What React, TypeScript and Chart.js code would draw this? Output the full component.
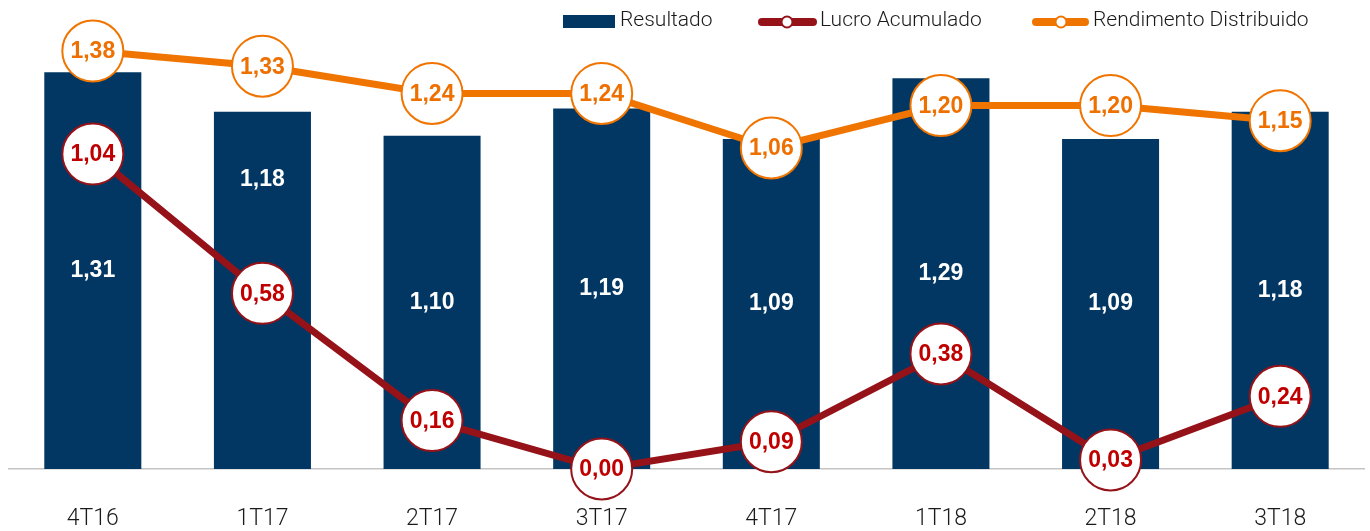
import React, { useEffect, useRef } from 'react';
import { Chart, registerables } from 'chart.js';

Chart.register(...registerables);

const categories = ['4T16', '1T17', '2T17', '3T17', '4T17', '1T18', '2T18', '3T18'];
const resultado = [1.31, 1.18, 1.1, 1.19, 1.09, 1.29, 1.09, 1.18];
const lucroAcumulado = [1.04, 0.58, 0.16, 0.0, 0.09, 0.38, 0.03, 0.24];
const rendimentoDistribuido = [1.38, 1.33, 1.24, 1.24, 1.06, 1.2, 1.2, 1.15];
const seriesNames = ['Resultado', 'Lucro Acumulado', 'Rendimento Distribuido'];

const NAVY = '#023763';
const ORANGE = '#F07400';
const ORANGE_TEXT = '#EE7000';
const DARKRED = '#951219';
const RED = '#C00000';
const LIGHT_FONT = 'Roboto, "Liberation Sans", Arial, sans-serif';
const BOLD_FONT = '"Liberation Sans", Arial, sans-serif';

const fmt = (v: number) => v.toFixed(2).replace('.', ',');

// label anchor override for a bar label (value units), where the label was lifted in the original
const barLabelAnchor: Record<number, number> = { 1: 0.955 };

const valueLabels = {
  id: 'valueLabels',
  afterDatasetsDraw(chart: any) {
    const ctx = chart.ctx;
    const yScale = chart.scales.y;
    ctx.save();
    ctx.textAlign = 'center';
    ctx.textBaseline = 'middle';
    ctx.font = `bold 23px ${BOLD_FONT}`;
    chart.data.datasets.forEach((ds: any, di: number) => {
      const meta = chart.getDatasetMeta(di);
      meta.data.forEach((el: any, i: number) => {
        const v = ds.data[i] as number;
        if (ds.type === 'bar') {
          const anchor = barLabelAnchor[i] ?? v / 2;
          ctx.fillStyle = '#ffffff';
          ctx.fillText(fmt(v), el.x, yScale.getPixelForValue(anchor));
        } else {
          ctx.fillStyle = ds.labelColor;
          ctx.fillText(fmt(v), el.x, el.y + 1);
        }
      });
    });
    ctx.restore();
  },
};

const customLegend = {
  id: 'customLegend',
  afterDraw(chart: any) {
    const ctx = chart.ctx;
    ctx.save();
    ctx.font = `300 21px ${LIGHT_FONT}`;
    ctx.textBaseline = 'middle';
    ctx.textAlign = 'left';
    const cy = 13;
    // Resultado
    ctx.fillStyle = NAVY;
    ctx.fillRect(555, 7, 52, 13);
    ctx.fillStyle = '#1a1a1a';
    ctx.fillText(seriesNames[0], 612, cy);
    // line items
    const items = [
      { x0: 754, x1: 805, cx: 779, color: DARKRED, tx: 812, name: seriesNames[1] },
      { x0: 1028, x1: 1077, cx: 1053, color: ORANGE, tx: 1085, name: seriesNames[2] },
    ];
    items.forEach((it) => {
      ctx.strokeStyle = it.color;
      ctx.lineWidth = 8;
      ctx.lineCap = 'round';
      ctx.beginPath();
      ctx.moveTo(it.x0, cy + 1);
      ctx.lineTo(it.x1, cy + 1);
      ctx.stroke();
      ctx.beginPath();
      ctx.arc(it.cx, cy + 1, 5.5, 0, Math.PI * 2);
      ctx.fillStyle = '#ffffff';
      ctx.fill();
      ctx.lineWidth = 2;
      ctx.stroke();
      ctx.fillStyle = '#1a1a1a';
      ctx.fillText(it.name, it.tx, cy);
    });
    ctx.restore();
  },
};

export default function App() {
  const canvasRef = useRef<HTMLCanvasElement | null>(null);

  useEffect(() => {
    if (!canvasRef.current) return;
    const chart = new Chart(canvasRef.current, {
      type: 'bar',
      data: {
        labels: categories,
        datasets: [
          {
            type: 'line',
            label: seriesNames[2],
            data: rendimentoDistribuido,
            borderColor: ORANGE,
            borderWidth: 7,
            pointRadius: 30.5,
            pointHoverRadius: 30.5,
            pointBackgroundColor: '#ffffff',
            pointBorderColor: ORANGE,
            pointBorderWidth: 2,
            tension: 0,
            clip: false,
            order: 1,
            labelColor: ORANGE_TEXT,
          } as any,
          {
            type: 'line',
            label: seriesNames[1],
            data: lucroAcumulado,
            borderColor: DARKRED,
            borderWidth: 7,
            pointRadius: 30.5,
            pointHoverRadius: 30.5,
            pointBackgroundColor: '#ffffff',
            pointBorderColor: DARKRED,
            pointBorderWidth: 2,
            tension: 0,
            clip: false,
            order: 2,
            labelColor: RED,
          } as any,
          {
            type: 'bar',
            label: seriesNames[0],
            data: resultado,
            backgroundColor: NAVY,
            barPercentage: 0.572,
            categoryPercentage: 1,
            order: 10,
          } as any,
        ],
      },
      options: {
        animation: false,
        responsive: true,
        maintainAspectRatio: false,
        events: [],
        layout: { autoPadding: false, padding: { top: 37, left: 0, right: 0, bottom: 0 } },
        plugins: {
          legend: { display: false },
          tooltip: { enabled: false },
        },
        scales: {
          x: {
            grid: { display: false, drawTicks: false },
            border: { display: true, color: '#c4c4c4', width: 1.5 },
            ticks: {
              color: '#1a1a1a',
              font: { family: LIGHT_FONT, size: 23, weight: '300' as any },
              padding: 36,
              maxRotation: 0,
              autoSkip: false,
            },
            afterFit: (s: any) => {
              s.height = 62;
            },
          },
          y: {
            display: false,
            min: 0,
            max: 1.4,
          },
        },
      } as any,
      plugins: [valueLabels, customLegend],
    });
    return () => chart.destroy();
  }, []);

  return (
    <div style={{ position: 'fixed', left: 8, top: 8, width: 1357, height: 523 }}>
      <canvas ref={canvasRef} />
    </div>
  );
}
